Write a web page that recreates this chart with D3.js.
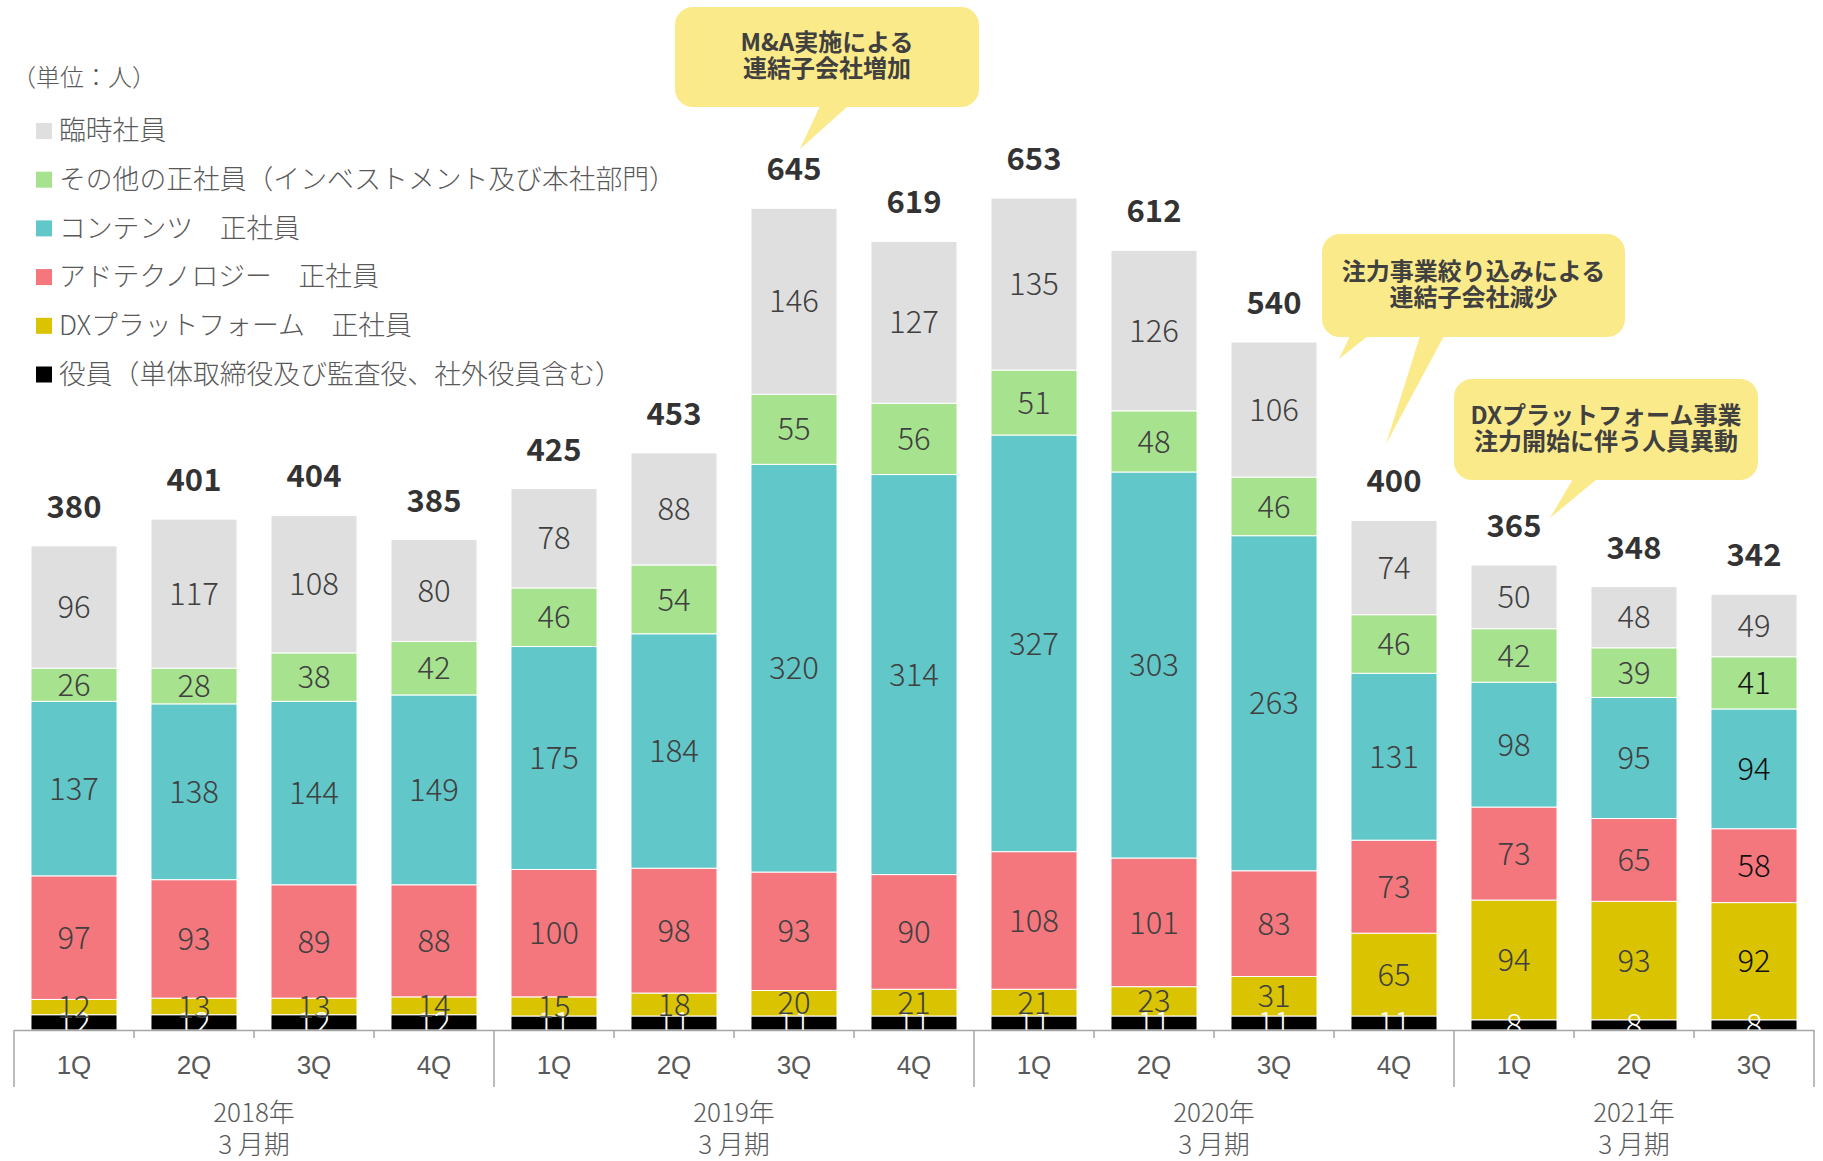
<!DOCTYPE html>
<html>
<head>
<meta charset="utf-8">
<script src="https://cdn.jsdelivr.net/npm/d3@7"></script>
<style>
	body { margin: 0; background: #fff; }
	svg { display: block; font-family: 'Noto Sans CJK JP', 'Noto Sans', sans-serif; }
</style>
</head>
<body>
<script>
// quarters and fiscal years
var quarters = ['1Q', '2Q', '3Q', '4Q', '1Q', '2Q', '3Q', '4Q', '1Q', '2Q', '3Q', '4Q', '1Q', '2Q', '3Q'];
var fiscalYears = ['2018年', '2019年', '2020年', '2021年'];
var quartersPerYear = [4, 4, 4, 3];

// headcount per segment (bottom to top of the stack)
var officers = [12, 12, 12, 12, 11, 11, 11, 11, 11, 11, 11, 11, 8, 8, 8];
var dxPlatform = [12, 13, 13, 14, 15, 18, 20, 21, 21, 23, 31, 65, 94, 93, 92];
var adTech = [97, 93, 89, 88, 100, 98, 93, 90, 108, 101, 83, 73, 73, 65, 58];
var contents = [137, 138, 144, 149, 175, 184, 320, 314, 327, 303, 263, 131, 98, 95, 94];
var otherRegular = [26, 28, 38, 42, 46, 54, 55, 56, 51, 48, 46, 46, 42, 39, 41];
var temporary = [96, 117, 108, 80, 78, 88, 146, 127, 135, 126, 106, 74, 50, 48, 49];

var seriesNames = [
	'役員（単体取締役及び監査役、社外役員含む）',
	'DXプラットフォーム　正社員',
	'アドテクノロジー　正社員',
	'コンテンツ　正社員',
	'その他の正社員（インベストメント及び本社部門）',
	'臨時社員'
];
var unitLabel = '（単位：人）';

var notes = [
	{ lines: ['M&A実施による', '連結子会社増加'] },
	{ lines: ['注力事業絞り込みによる', '連結子会社減少'] },
	{ lines: ['DXプラットフォーム事業', '注力開始に伴う人員異動'] }
];

(function () {
	var width = 1823,
		height = 1161,
		axisLeft = 14,
		axisRight = 1814,
		baseY = 1030,
		pxPerPerson = 1.274,
		valueFont = 31,
		totalFont = 31;

	var colors = ['#000000', '#dac300', '#f4777d', '#62c7c9', '#a7e28f', '#dfdfdf'];
	var keys = ['officers', 'dx', 'ad', 'contents', 'other', 'temp'];
	var columns = [officers, dxPlatform, adTech, contents, otherRegular, temporary];

	// build table for d3.stack
	var table = quarters.map(function (q, i) {
		var row = { idx: i };
		keys.forEach(function (k, j) { row[k] = columns[j][i]; });
		return row;
	});
	var series = d3.stack().keys(keys)(table);

	var svg = d3.select('body').append('svg')
		.attr('width', width)
		.attr('height', height);

	var x = d3.scaleBand()
		.domain(d3.range(quarters.length))
		.range([axisLeft, axisRight])
		.paddingInner(0.283)
		.paddingOuter(0.1415);

	var y = d3.scaleLinear()
		.domain([0, 700])
		.range([baseY, baseY - 700 * pxPerPerson]);

	// stacked bars
	var layers = svg.append('g').attr('class', 'bars')
		.selectAll('g').data(series).enter().append('g')
		.attr('fill', function (d, i) { return colors[i]; });

	layers.selectAll('rect').data(function (d) { return d; }).enter().append('rect')
		.attr('x', function (d) { return x(d.data.idx); })
		.attr('width', x.bandwidth())
		.attr('y', function (d) { return y(d[1]); })
		.attr('height', function (d) { return y(d[0]) - y(d[1]); })
		.attr('stroke', '#fff')
		.attr('stroke-width', 1);

	// segment labels
	series.forEach(function (s, si) {
		svg.append('g').selectAll('text').data(s).enter().append('text')
			.attr('x', function (d) { return x(d.data.idx) + x.bandwidth() / 2; })
			.attr('y', function (d) { return (y(d[0]) + y(d[1])) / 2; })
			.attr('dy', '0.36em')
			.attr('text-anchor', 'middle')
			.attr('font-size', valueFont)
			.attr('font-weight', 300)
			.attr('fill', function (d) {
				if (si === 0) return '#fff';
				if (d.data.idx === quarters.length - 1 && si < 5) return '#111';
				return '#404040';
			})
			.text(function (d) { return d[1] - d[0]; });
	});

	// totals above bars
	var top = series[series.length - 1];
	svg.append('g').selectAll('text').data(top).enter().append('text')
		.attr('x', function (d) { return x(d.data.idx) + x.bandwidth() / 2; })
		.attr('y', function (d) { return y(d[1]) - 28; })
		.attr('text-anchor', 'middle')
		.attr('font-size', totalFont)
		.attr('font-weight', 700)
		.attr('fill', '#333')
		.text(function (d) { return d[1]; });

	// x axis
	var xAxis = d3.axisBottom(x)
		.tickSize(0)
		.tickPadding(26)
		.tickFormat(function (i) { return quarters[i]; });
	var xAxisEl = svg.append('g')
		.attr('transform', 'translate(0,' + baseY + ')')
		.call(xAxis);
	xAxisEl.select('.domain').attr('stroke', '#a6a6a6').attr('stroke-width', 1.5);
	xAxisEl.selectAll('text')
		.attr('font-family', null)
		.attr('font-size', 26)
		.attr('font-weight', 300)
		.attr('fill', '#595959');

	// separators between quarters (short) and fiscal years (long)
	var gap = x.step() - x.bandwidth();
	var yearStarts = [0];
	quartersPerYear.forEach(function (n, i) { yearStarts.push(yearStarts[i] + n); });
	var edgeX = function (i) {
		return i < quarters.length ? x(i) - gap / 2 : x(i - 1) + x.bandwidth() + gap / 2;
	};
	svg.append('g').selectAll('line').data(d3.range(quarters.length + 1)).enter().append('line')
		.attr('x1', edgeX)
		.attr('x2', edgeX)
		.attr('y1', baseY)
		.attr('y2', function (i) { return yearStarts.indexOf(i) !== -1 ? baseY + 57 : baseY + 8; })
		.attr('stroke', '#a6a6a6')
		.attr('stroke-width', 1.5);

	// fiscal year labels
	var yearEls = svg.append('g').selectAll('text').data(fiscalYears).enter().append('text')
		.attr('text-anchor', 'middle')
		.attr('font-size', 26)
		.attr('font-weight', 300)
		.attr('fill', '#595959');
	yearEls.each(function (label, i) {
		var cx = (edgeX(yearStarts[i]) + edgeX(yearStarts[i + 1])) / 2;
		var t = d3.select(this);
		t.append('tspan').attr('x', cx).attr('y', baseY + 92).text(label);
		t.append('tspan').attr('x', cx).attr('y', baseY + 124).text('3 月期');
	});

	// legend
	svg.append('text')
		.attr('x', 12).attr('y', 78).attr('dy', '0.35em')
		.attr('font-size', 24).attr('font-weight', 300).attr('fill', '#595959')
		.text(unitLabel);
	var legend = svg.append('g').selectAll('g').data(seriesNames.slice().reverse()).enter().append('g')
		.attr('transform', function (d, i) { return 'translate(36,' + (131 + i * 48.7) + ')'; });
	legend.append('rect')
		.attr('y', -8).attr('width', 16).attr('height', 16)
		.attr('fill', function (d, i) { return colors[colors.length - 1 - i]; });
	legend.append('text')
		.attr('x', 23).attr('dy', '0.35em')
		.attr('font-size', 26.8).attr('font-weight', 300).attr('fill', '#595959')
		.text(function (d) { return d; });

	// callout bubbles
	var bubbleBoxes = [
		{ x: 675, y: 7, w: 304, h: 100, tails: [[820, 848, 800, 149]] },
		{ x: 1322, y: 234, w: 303, h: 103, tails: [[1350, 1368, 1339, 359], [1420, 1444, 1386, 444]] },
		{ x: 1454, y: 379, w: 304, h: 101, tails: [[1573, 1597, 1550, 518]] }
	];
	var bubbles = svg.append('g').selectAll('g').data(notes).enter().append('g');
	bubbles.each(function (n, i) {
		var b = bubbleBoxes[i];
		var g = d3.select(this);
		g.append('rect')
			.attr('x', b.x).attr('y', b.y).attr('width', b.w).attr('height', b.h)
			.attr('rx', 18).attr('fill', '#fbea8a');
		b.tails.forEach(function (t) {
			var bottom = b.y + b.h;
			g.append('path')
				.attr('d', 'M' + t[0] + ',' + (bottom - 1) + 'L' + t[1] + ',' + (bottom - 1) + 'L' + t[2] + ',' + t[3] + 'Z')
				.attr('fill', '#fbea8a');
		});
		g.selectAll('text').data(n.lines).enter().append('text')
			.attr('x', b.x + b.w / 2)
			.attr('y', function (d, j) { return b.y + b.h / 2 - 14 + j * 26; })
			.attr('dy', '0.35em')
			.attr('text-anchor', 'middle')
			.attr('font-size', 24)
			.attr('font-weight', 700)
			.attr('fill', '#404040')
			.text(function (d) { return d; });
	});
})();
</script>
</body>
</html>
